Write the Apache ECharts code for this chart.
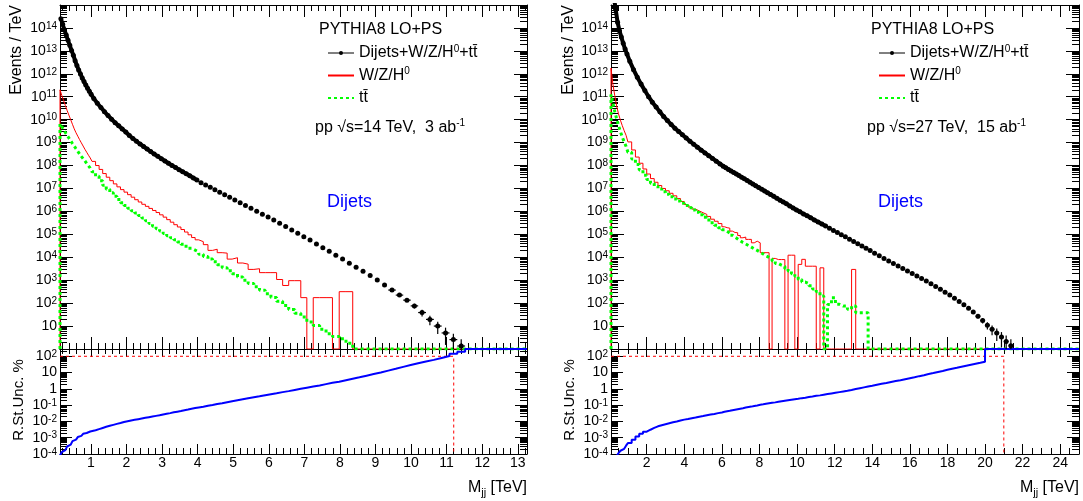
<!DOCTYPE html>
<html>
<head>
<meta charset="utf-8">
<title>Dijet invariant mass spectra, PYTHIA8</title>
<script src="https://cdn.jsdelivr.net/npm/echarts@6.0.0/dist/echarts.min.js"></script>
<style>
html,body{margin:0;padding:0;background:#fff;}
#chart{width:1083px;height:501px;}
</style>
</head>
<body>
<div id="chart"></div>
<script>
// ------------------------------------------------------------------
// DATA
// Histogram contents are stored as log10(Events / TeV); null = empty bin.
// Uncertainty histograms are stored as log10(R.St.Unc. in %).
// ------------------------------------------------------------------

// ---------- left panel: pp sqrt(s)=14 TeV, 3 ab^-1 ----------
const L_edges = [
  0.13, 0.18, 0.23, 0.28, 0.33, 0.38, 0.43, 0.48, 0.53, 0.58, 0.63, 0.68, 0.73, 0.78, 0.83, 0.88, 0.93, 0.98, 1.03,
  1.13, 1.23, 1.33, 1.43, 1.53, 1.63, 1.73, 1.83, 1.93, 2.03, 2.13, 2.23, 2.33, 2.43, 2.53, 2.63, 2.73, 2.83, 2.93, 3.03,
  3.13, 3.23, 3.33, 3.43, 3.53, 3.63, 3.73, 3.83, 3.93, 4.03,
  4.16, 4.29, 4.42, 4.55, 4.69, 4.83, 4.97, 5.12, 5.27, 5.42, 5.58, 5.74, 5.90, 6.06, 6.22, 6.39, 6.56, 6.73, 6.90, 7.07,
  7.25, 7.43, 7.61, 7.79, 7.98, 8.17, 8.36, 8.55, 8.75, 8.95, 9.15, 9.36, 9.57, 9.78, 9.99, 10.20, 10.42, 10.64, 10.86,
  11.08, 11.30, 11.52,
  11.75, 12.00, 12.50, 13.00, 13.26
];
const L_dijets_log10 = [
  14.40, 14.16, 13.92, 13.69, 13.46, 13.24, 13.02, 12.81, 12.57, 12.36, 12.17, 11.99, 11.82, 11.66, 11.51, 11.37, 11.24, 11.11,
  10.92, 10.72, 10.53, 10.35, 10.18, 10.02, 9.87, 9.73, 9.59, 9.46, 9.31, 9.18, 9.06, 8.94, 8.83, 8.72, 8.61, 8.50, 8.40, 8.30,
  8.20, 8.10, 8.00, 7.91, 7.82, 7.73, 7.64, 7.55, 7.46, 7.37,
  7.25, 7.15, 7.05, 6.94, 6.84, 6.73, 6.62, 6.50, 6.38, 6.26, 6.14, 6.01, 5.88, 5.76, 5.62, 5.48, 5.34, 5.19, 5.05, 4.90,
  4.75, 4.58, 4.42, 4.26, 4.09, 3.92, 3.74, 3.57, 3.39, 3.20, 3.01, 2.79, 2.57, 2.35, 2.13, 1.88, 1.59, 1.29, 1.00, 0.70,
  0.41, 0.13,
  null, null, null, null, null
];
// relative statistical errors of the last filled dijet bins (visible error bars)
const L_dijets_relErrTail = [0.10, 0.13, 0.17, 0.23, 0.33, 0.45, 0.55, 0.70, 0.80, 0.95];
const L_wzh_log10 = [
  11.30, 11.06, 10.84, 10.62, 10.40, 10.20, 10.00, 9.80, 9.60, 9.43, 9.28, 9.13, 8.99, 8.85, 8.71, 8.58, 8.45, 8.33,
  8.18, 8.00, 7.83, 7.65, 7.49, 7.34, 7.20, 7.07, 6.95, 6.84, 6.73, 6.62, 6.51, 6.41, 6.31, 6.22, 6.13, 6.04, 5.95, 5.85,
  5.75, 5.64, 5.53, 5.42, 5.32, 5.21, 5.10, 4.98, 4.86, 4.76,
  4.68, 4.55, 4.30, 4.35, 4.20, 4.18, 3.92, 3.98, 3.75, 3.70, 3.47, 3.50, 3.33, 3.33, 3.33, 3.03, 2.77, 2.98, 2.98, 2.24,
  null, 2.24, 2.24, 2.24, null, 2.50, 2.50, null, null, null, null, null, null, null, null, null, null, null, null, null,
  null, null,
  null, null, null, null, null
];
const L_tt_log10 = [
  9.82, 9.70, 9.57, 9.44, 9.32, 9.20, 9.08, 8.96, 8.85, 8.73, 8.62, 8.51, 8.40, 8.30, 8.20, 8.09, 7.99, 7.89,
  7.73, 7.53, 7.34, 7.14, 6.97, 6.81, 6.66, 6.52, 6.38, 6.26, 6.14, 6.03, 5.93, 5.82, 5.71, 5.59, 5.47, 5.35, 5.24, 5.14,
  5.04, 4.94, 4.85, 4.76, 4.67, 4.57, 4.48, 4.39, 4.31, 4.23,
  4.13, 4.03, 3.92, 3.80, 3.67, 3.54, 3.41, 3.28, 3.14, 3.00, 2.86, 2.71, 2.56, 2.41, 2.25, 2.08, 1.90, 1.72, 1.56, 1.40,
  1.18, 1.02, 0.86, 0.66, 0.55, 0.45, 0.25, null, null, null, null, null, null, null, null, null, null, null, null, null,
  null, null,
  null, null, null, null, null
];
const L_unc_log10 = [
  -4.10, -3.88, -3.76, -3.65, -3.54, -3.43, -3.32, -3.21, -3.12, -3.04, -2.96, -2.89, -2.82, -2.76, -2.71, -2.66, -2.62, -2.58,
  -2.54, -2.47, -2.40, -2.33, -2.27, -2.21, -2.15, -2.10, -2.04, -1.99, -1.94, -1.90, -1.86, -1.82, -1.78, -1.74, -1.70, -1.66,
  -1.62, -1.57, -1.53, -1.49, -1.44, -1.40, -1.36, -1.31, -1.27, -1.22, -1.18, -1.14,
  -1.10, -1.04, -0.99, -0.93, -0.88, -0.82, -0.76, -0.70, -0.64, -0.58, -0.52, -0.46, -0.39, -0.33, -0.27, -0.20, -0.14, -0.07,
  0.00, 0.07, 0.14, 0.21, 0.29, 0.37, 0.44, 0.53, 0.62, 0.71, 0.81, 0.91, 1.01, 1.12, 1.23, 1.35, 1.46, 1.57, 1.68, 1.78,
  1.90, 2.02, 2.15, 2.28,
  2.44, 2.44, 2.44, 2.44, 2.44
];
const L_cut = 11.2;                       // TeV, end of the <100% region
const L_xTickLabels = [1, 2, 3, 4, 5, 6, 7, 8, 9, 10, 11, 12, 13];

// ---------- right panel: pp sqrt(s)=27 TeV, 15 ab^-1 ----------
const R_edges = [
  0.1, 0.2, 0.3, 0.4, 0.5, 0.6, 0.7, 0.8, 0.9, 1.0,
  1.2, 1.4, 1.6, 1.8, 2.0, 2.2, 2.4, 2.6, 2.8, 3.0, 3.2, 3.4, 3.6, 3.8, 4.0, 4.2, 4.4, 4.6, 4.8, 5.0, 5.2, 5.4, 5.6, 5.8, 6.0,
  6.14, 6.28, 6.42, 6.56, 6.70, 6.84, 6.98, 7.12, 7.27, 7.42, 7.57, 7.72, 7.88, 8.04, 8.20, 8.35, 8.51, 8.67, 8.84, 9.01,
  9.18, 9.35, 9.52, 9.70, 9.88, 10.06, 10.25, 10.44, 10.63, 10.82, 11.02, 11.22, 11.42, 11.62, 11.83, 12.04, 12.25, 12.46,
  12.68, 12.90, 13.12, 13.34, 13.56, 13.78, 14.00,
  14.25, 14.50, 14.75, 15.00, 15.25, 15.50, 15.75, 16.00, 16.25, 16.50, 16.75, 17.00, 17.25, 17.50, 17.75, 18.00,
  18.25, 18.50, 18.75, 19.00, 19.25, 19.50, 19.75, 20.00, 20.25, 20.50, 20.75, 21.00, 21.25, 21.50,
  22.0, 22.5, 23.0, 23.5, 24.0, 24.5, 25.0
];
const R_dijets_log10 = [
  16.00, 15.35, 14.80, 14.25, 13.88, 13.60, 13.33, 13.08, 12.86,
  12.55, 12.18, 11.85, 11.55, 11.27, 11.00, 10.76, 10.55, 10.34, 10.14, 9.96, 9.79, 9.63, 9.48, 9.34, 9.20, 9.06, 8.93,
  8.80, 8.67, 8.55, 8.43, 8.31, 8.19, 8.07,
  7.97, 7.90, 7.83, 7.76, 7.70, 7.63, 7.56, 7.49, 7.42, 7.35, 7.27, 7.20, 7.12, 7.04, 6.97, 6.89, 6.81, 6.74, 6.66, 6.57,
  6.49, 6.41, 6.33, 6.24, 6.15, 6.06, 5.98, 5.89, 5.81, 5.72, 5.63, 5.54, 5.45, 5.36, 5.27, 5.17, 5.08, 4.98, 4.89, 4.79,
  4.69, 4.59, 4.49, 4.39, 4.29,
  4.18, 4.07, 3.95, 3.84, 3.73, 3.62, 3.51, 3.40, 3.29, 3.18, 3.07, 2.96, 2.85, 2.73, 2.61, 2.48, 2.35, 2.21, 2.07, 1.93,
  1.78, 1.61, 1.43, 1.24, 1.04, 0.86, 0.70, 0.52, 0.33, 0.14,
  null, null, null, null, null, null, null
];
const R_dijets_relErrTail = [0.20, 0.25, 0.35, 0.45, 0.55, 0.65, 0.80, 0.95];
const R_wzh_log10 = [
  12.25, 11.55, 11.05, 10.60, 10.25, 9.98, 9.74, 9.52, 9.32,
  9.03, 8.68, 8.37, 8.10, 7.85, 7.63, 7.43, 7.27, 7.13, 7.00, 6.90, 6.79, 6.68, 6.56, 6.43, 6.30, 6.19, 6.10, 6.02, 5.94,
  5.87, 5.78, 5.66, 5.57, 5.47,
  5.33, 5.29, 5.27, 5.14, 5.08, 5.07, 4.95, 4.85, 4.88, 4.78, 4.78, 4.63, 4.70, 4.63, 4.20, 4.20, 4.20, null, 3.95, 3.90,
  3.90, 3.90, null, 4.09, 4.09, null, 3.69, 3.91, 3.61, 3.61, 3.61, null, 3.54, null, null, null, null, null, null, null,
  3.47, null, null, null, null,
  null, null, null, null, null, null, null, null, null, null, null, null, null, null, null, null, null, null, null, null,
  null, null, null, null, null, null, null, null, null, null,
  null, null, null, null, null, null, null
];
const R_tt_log10 = [
  11.10, 10.72, 10.35, 10.04, 9.75, 9.48, 9.24, 9.03, 8.84,
  8.58, 8.28, 8.04, 7.80, 7.58, 7.39, 7.23, 7.10, 6.98, 6.86, 6.75, 6.64, 6.54, 6.45, 6.36, 6.26, 6.16, 6.06, 5.96, 5.85,
  5.74, 5.63, 5.51, 5.40, 5.29,
  5.20, 5.13, 5.05, 4.96, 4.88, 4.80, 4.72, 4.64, 4.58, 4.51, 4.44, 4.37, 4.30, 4.22, 4.14, 4.06, 4.00, 3.93, 3.84, 3.73,
  3.65, 3.60, 3.50, 3.40, 3.28, 3.17, 3.03, 2.92, 2.85, 2.76, 2.62, 2.50, 2.31, null, 1.94, 2.24, 1.95, 1.87, 1.87, 1.73,
  1.87, 1.58, 1.58, 1.58, null,
  null, null, null, null, null, null, null, null, null, null, null, null, null, null, null, null, null, null, null, null,
  null, null, null, null, null, null, null, null, null, null,
  null, null, null, null, null, null, null
];
const R_unc_log10 = [
  -5.00, -4.70, -4.40, -4.13, -3.94, -3.80, -3.68, -3.58, -3.49,
  -3.33, -3.13, -2.93, -2.76, -2.63, -2.51, -2.40, -2.30, -2.23, -2.17, -2.11, -2.05, -2.00, -1.94, -1.89, -1.85, -1.80,
  -1.76, -1.71, -1.67, -1.62, -1.58, -1.54, -1.49, -1.45,
  -1.41, -1.38, -1.35, -1.31, -1.28, -1.25, -1.22, -1.19, -1.15, -1.12, -1.09, -1.05, -1.02, -0.98, -0.95, -0.92, -0.89,
  -0.86, -0.83, -0.79, -0.76, -0.73, -0.70, -0.67, -0.64, -0.61, -0.57, -0.54, -0.50, -0.47, -0.43, -0.40, -0.36, -0.32,
  -0.28, -0.24, -0.20, -0.16, -0.12, -0.07, -0.01, 0.04, 0.09, 0.14, 0.19,
  0.25, 0.31, 0.36, 0.42, 0.48, 0.53, 0.59, 0.65, 0.71, 0.78, 0.84, 0.91, 0.97, 1.04, 1.10, 1.17, 1.23, 1.29, 1.36, 1.42,
  1.48, 1.54, 1.60, 1.67, 2.44, 2.44, 2.44, 2.44, 2.44, 2.44,
  2.44, 2.44, 2.44, 2.44, 2.44, 2.44, 2.44
];
const R_cut = 21.0;
const R_xTickLabels = [2, 4, 6, 8, 10, 12, 14, 16, 18, 20, 22, 24];

const UNC_THRESHOLD = 100;   // %
const TOP_yTickLabels = [10, 1e2, 1e3, 1e4, 1e5, 1e6, 1e7, 1e8, 1e9, 1e10, 1e11, 1e12, 1e13, 1e14];
const BOT_yTickLabels = [1e-4, 1e-3, 1e-2, 1e-1, 1, 10, 100];

const N_ALL = 'Dijets+W/Z/H0+ttbar', N_WZH = 'W/Z/H0', N_TT = 'ttbar';

// ------------------------------------------------------------------
// LAYOUT / STYLE
// ------------------------------------------------------------------
const FONT = '"Liberation Sans", Arial, Helvetica, sans-serif';
const TOP_RANGE = [1, 1e15];
const BOT_RANGE = [1e-4, 280];

const xAxis = [], yAxis = [], series = [];

function tickStyle(len, vals) {
  return { show: true, inside: true, length: len, customValues: vals, lineStyle: { color: '#000', width: 1 } };
}
function axisLineOn() { return { show: true, onZero: false, lineStyle: { color: '#000', width: 1 } }; }

function addX(grid, min, max, major, minor, lens, labels) {
  const base = { gridIndex: grid, type: 'value', min: min, max: max, splitLine: { show: false }, silent: true };
  const i0 = xAxis.length;
  xAxis.push(Object.assign({}, base, {
    position: 'bottom', axisLine: axisLineOn(), axisTick: tickStyle(lens[0], major),
    axisLabel: labels ? { show: true, customValues: labels, margin: 2, fontSize: 14, fontFamily: FONT, color: '#000',
      showMinLabel: true, showMaxLabel: true,
      formatter: function (v) { return String(Math.round(v)); } } : { show: false }
  }));
  xAxis.push(Object.assign({}, base, { position: 'bottom', axisLine: { show: false, onZero: false }, axisTick: tickStyle(lens[1], minor), axisLabel: { show: false } }));
  xAxis.push(Object.assign({}, base, { position: 'top', axisLine: axisLineOn(), axisTick: tickStyle(lens[2], major), axisLabel: { show: false } }));
  xAxis.push(Object.assign({}, base, { position: 'top', axisLine: { show: false, onZero: false }, axisTick: tickStyle(lens[3], minor), axisLabel: { show: false } }));
  return i0;
}

function logLabel(v) {
  const n = Math.round(Math.log10(v));
  if (n === 0) return '1';
  if (n === 1) return '10';
  return '10{sup|' + n + '}';
}

function addY(grid, range, labels, lens) {
  const lo = Math.round(Math.log10(range[0])), hi = Math.floor(Math.log10(range[1]) + 1e-9);
  const major = [], minor = [];
  for (let n = lo; n <= hi; n++) {
    major.push(Math.pow(10, n));
    for (let k = 2; k <= 9; k++) {
      const v = k * Math.pow(10, n);
      if (v <= range[1]) minor.push(v);
    }
  }
  const base = { gridIndex: grid, type: 'log', logBase: 10, min: range[0], max: range[1], splitLine: { show: false }, silent: true };
  const i0 = yAxis.length;
  yAxis.push(Object.assign({}, base, {
    position: 'left', axisLine: axisLineOn(), axisTick: tickStyle(lens[0], major),
    axisLabel: { show: true, customValues: labels, formatter: logLabel, margin: 3, fontSize: 14, fontFamily: FONT, color: '#000',
      showMinLabel: true, showMaxLabel: true, hideOverlap: false,
      lineHeight: 14, rich: { sup: { fontSize: 10, lineHeight: 4, verticalAlign: 'top', fontFamily: FONT, color: '#000' } } }
  }));
  yAxis.push(Object.assign({}, base, { position: 'left', axisLine: { show: false, onZero: false }, axisTick: tickStyle(lens[1], minor), axisLabel: { show: false } }));
  yAxis.push(Object.assign({}, base, { position: 'right', axisLine: axisLineOn(), axisTick: tickStyle(lens[0], major), axisLabel: { show: false } }));
  yAxis.push(Object.assign({}, base, { position: 'right', axisLine: { show: false, onZero: false }, axisTick: tickStyle(lens[1], minor), axisLabel: { show: false } }));
  return i0;
}

function mids(e) { const c = []; for (let i = 0; i < e.length - 1; i++) c.push((e[i] + e[i + 1]) / 2); return c; }

// step histogram outline: [lowEdge, content] points drawn with step:'end'
function histLine(edges, logs, floor, leadFromFloor) {
  const d = [];
  if (leadFromFloor) d.push([edges[0], floor]);
  for (let i = 0; i < logs.length; i++) d.push([edges[i], logs[i] == null ? floor : Math.pow(10, logs[i])]);
  d.push([edges[logs.length], d[d.length - 1][1]]);
  return d;
}

function buildPanel(p) {
  const xMinor = [];
  for (let k = 1; k * p.minorStep <= p.xMax + 1e-9; k++) {
    const v = Math.round(k * p.minorStep * 1000) / 1000;
    const r = v / p.majorStep;
    if (v >= p.xMin && Math.abs(r - Math.round(r)) > 1e-6) xMinor.push(v);
  }
  const xt = addX(p.gTop, p.xMin, p.xMax, p.xLabels, xMinor, [12, 6, 12, 6], null);
  const yt = addY(p.gTop, TOP_RANGE, TOP_yTickLabels, [13, 7]);
  const xb = addX(p.gBot, p.xMin, p.xMax, p.xLabels, xMinor, [10, 6, 8, 5], p.xLabels);
  const yb = addY(p.gBot, BOT_RANGE, BOT_yTickLabels, [12, 7]);

  const c = mids(p.edges);
  const filled = [];
  p.dijets.forEach(function (v, i) { if (v != null) filled.push(i); });
  const isDense = function (i) { return p.edges[i + 1] - p.edges[i] <= p.denseWidth + 1e-9; };
  const pt = function (i) { return [c[i], Math.pow(10, p.dijets[i])]; };

  // W/Z/H0 (solid red histogram)
  series.push({ name: N_WZH, type: 'line', step: 'end', xAxisIndex: xt, yAxisIndex: yt, clip: true, z: 3,
    data: histLine(p.edges, p.wzh, TOP_RANGE[0], true), symbol: 'none',
    lineStyle: { color: '#ff0000', width: 1 }, itemStyle: { color: '#ff0000' } });
  // ttbar (dotted green histogram)
  series.push({ name: N_TT, type: 'line', step: 'end', xAxisIndex: xt, yAxisIndex: yt, clip: true, z: 3,
    data: histLine(p.edges, p.tt, TOP_RANGE[0], true), symbol: 'none',
    lineStyle: { color: '#00ff00', width: 3, type: [3, 3] }, itemStyle: { color: '#00ff00' } });
  // dijets total: densely binned low-mass part (markers merge into a thick curve)
  series.push({ name: N_ALL, type: 'line', xAxisIndex: xt, yAxisIndex: yt, clip: true, z: 5,
    data: filled.filter(isDense).map(pt),
    symbol: 'circle', symbolSize: 5, showSymbol: true,
    lineStyle: { width: 4, color: '#000' }, itemStyle: { color: '#000' } });
  // dijets total: wider bins (separate markers)
  series.push({ name: N_ALL, type: 'line', xAxisIndex: xt, yAxisIndex: yt, clip: true, z: 5,
    data: filled.filter(function (i) { return !isDense(i); }).map(pt),
    symbol: 'circle', symbolSize: 5, showSymbol: true,
    lineStyle: { opacity: 0, width: 1, color: '#000' }, itemStyle: { color: '#000' } });
  // error bars on the last filled bins
  const tail = filled.slice(filled.length - p.err.length);
  series.push({ name: 'stat. error', type: 'custom', xAxisIndex: xt, yAxisIndex: yt, clip: true, z: 5,
    data: tail.map(function (i, k) {
      const y = Math.pow(10, p.dijets[i]), r = p.err[k];
      return [c[i], y, r >= 1 ? TOP_RANGE[0] / 10 : y * (1 - r), y * (1 + r), p.edges[i], p.edges[i + 1]];
    }),
    renderItem: function (params, api) {
      const a = api.coord([api.value(0), api.value(2)]), b = api.coord([api.value(0), api.value(3)]);
      const l = api.coord([api.value(4), api.value(1)]), r = api.coord([api.value(5), api.value(1)]);
      return { type: 'group', children: [
        { type: 'line', shape: { x1: a[0], y1: a[1], x2: b[0], y2: b[1] }, style: { stroke: '#000', lineWidth: 1.2 } },
        { type: 'line', shape: { x1: l[0], y1: l[1], x2: r[0], y2: r[1] }, style: { stroke: '#000', lineWidth: 1.2 } }
      ] };
    } });
  // relative statistical uncertainty (blue histogram)
  series.push({ name: 'R.St.Unc.', type: 'line', step: 'end', xAxisIndex: xb, yAxisIndex: yb, clip: true, z: 3,
    data: histLine(p.edges, p.unc, BOT_RANGE[0], false), symbol: 'none',
    lineStyle: { color: '#0000ff', width: 2 } });
  // 100 % threshold and mass cut (red dashed)
  series.push({ name: '100% limit', type: 'line', xAxisIndex: xb, yAxisIndex: yb, clip: true, z: 2,
    data: [[p.xMin, UNC_THRESHOLD], [p.cut, UNC_THRESHOLD], [p.cut, BOT_RANGE[0]]], symbol: 'none',
    lineStyle: { color: '#ff0000', width: 1, type: [3, 3] } });
}

buildPanel({ edges: L_edges, dijets: L_dijets_log10, err: L_dijets_relErrTail, wzh: L_wzh_log10, tt: L_tt_log10,
  unc: L_unc_log10, xMin: 0.13, xMax: 13.26, xLabels: L_xTickLabels, majorStep: 1, minorStep: 0.2, cut: L_cut,
  denseWidth: 0.1, gTop: 0, gBot: 1 });
buildPanel({ edges: R_edges, dijets: R_dijets_log10, err: R_dijets_relErrTail, wzh: R_wzh_log10, tt: R_tt_log10,
  unc: R_unc_log10, xMin: 0.1, xMax: 25, xLabels: R_xTickLabels, majorStep: 2, minorStep: 0.5, cut: R_cut,
  denseWidth: 0.2, gTop: 2, gBot: 3 });

const LEGEND_TEXT = {};
LEGEND_TEXT[N_ALL] = 'Dijets+W/Z/H{sup|0}+tt\u0304';
LEGEND_TEXT[N_WZH] = 'W/Z/H{sup|0}';
LEGEND_TEXT[N_TT] = 'tt\u0304';

function legendAt(left) {
  return {
    left: left, top: 39, orient: 'vertical', itemWidth: 26, itemHeight: 5, itemGap: 4.5, selectedMode: false,
    data: [
      { name: N_ALL, lineStyle: { opacity: 1, width: 1, color: '#000' }, itemStyle: { color: '#000', opacity: 1 } },
      { name: N_WZH, itemStyle: { opacity: 0 } },
      { name: N_TT, itemStyle: { opacity: 0 } }
    ],
    formatter: function (name) { return LEGEND_TEXT[name]; },
    textStyle: { fontFamily: FONT, fontSize: 16, color: '#000', lineHeight: 18,
      rich: { sup: { fontFamily: FONT, fontSize: 10, lineHeight: 10, verticalAlign: 'top', color: '#000' } } }
  };
}

const RICH = {
  sup: { fontSize: 10, lineHeight: 10, verticalAlign: 'top', fontFamily: FONT, fill: '#000' },
  sub: { fontSize: 11, lineHeight: 11, verticalAlign: 'bottom', fontFamily: FONT, fill: '#000' }
};
function txt(x, y, text, extra, rot) {
  return { type: 'text', x: x, y: y, rotation: rot || 0, silent: true, z: 10,
    style: Object.assign({ text: text, fill: '#000', fontFamily: FONT, fontSize: 16, lineHeight: 20,
      align: 'left', verticalAlign: 'middle', rich: RICH }, extra || {}) };
}

const graphic = [];
[{ axX: 17, uncX: 19, right: 527, pythia: 319, pp: 315, dij: 327, sqrt: '14 TeV,  3 ab' },
 { axX: 569, uncX: 570, right: 1079, pythia: 871, pp: 867, dij: 878, sqrt: '27 TeV,  15 ab' }].forEach(function (q) {
  graphic.push(txt(q.axX, 5, 'Events / TeV', { align: 'right' }, Math.PI / 2));
  graphic.push(txt(q.uncX, 400, 'R.St.Unc. %', { align: 'center', fontSize: 15 }, Math.PI / 2));
  graphic.push(txt(q.right, 488, 'M{sub|jj} [TeV]', { align: 'right' }));
  graphic.push(txt(q.pythia, 30, 'PYTHIA8 LO+PS'));
  graphic.push(txt(q.pp, 128, 'pp \u221As=' + q.sqrt + '{sup|-1}'));
  graphic.push(txt(q.dij, 202, 'Dijets', { fill: '#0000ff', fontSize: 18 }));
});

const option = {
  animation: false,
  backgroundColor: '#fff',
  grid: [
    { left: 60, top: 5, width: 467, height: 344 },
    { left: 60, top: 349, width: 467, height: 105 },
    { left: 611, top: 5, width: 468, height: 344 },
    { left: 611, top: 349, width: 468, height: 105 }
  ],
  xAxis: xAxis,
  yAxis: yAxis,
  legend: [legendAt(322), legendAt(873)],
  series: series,
  graphic: graphic
};

const chart = echarts.init(document.getElementById('chart'), null, { renderer: 'canvas' });
chart.setOption(option);
</script>
</body>
</html>
